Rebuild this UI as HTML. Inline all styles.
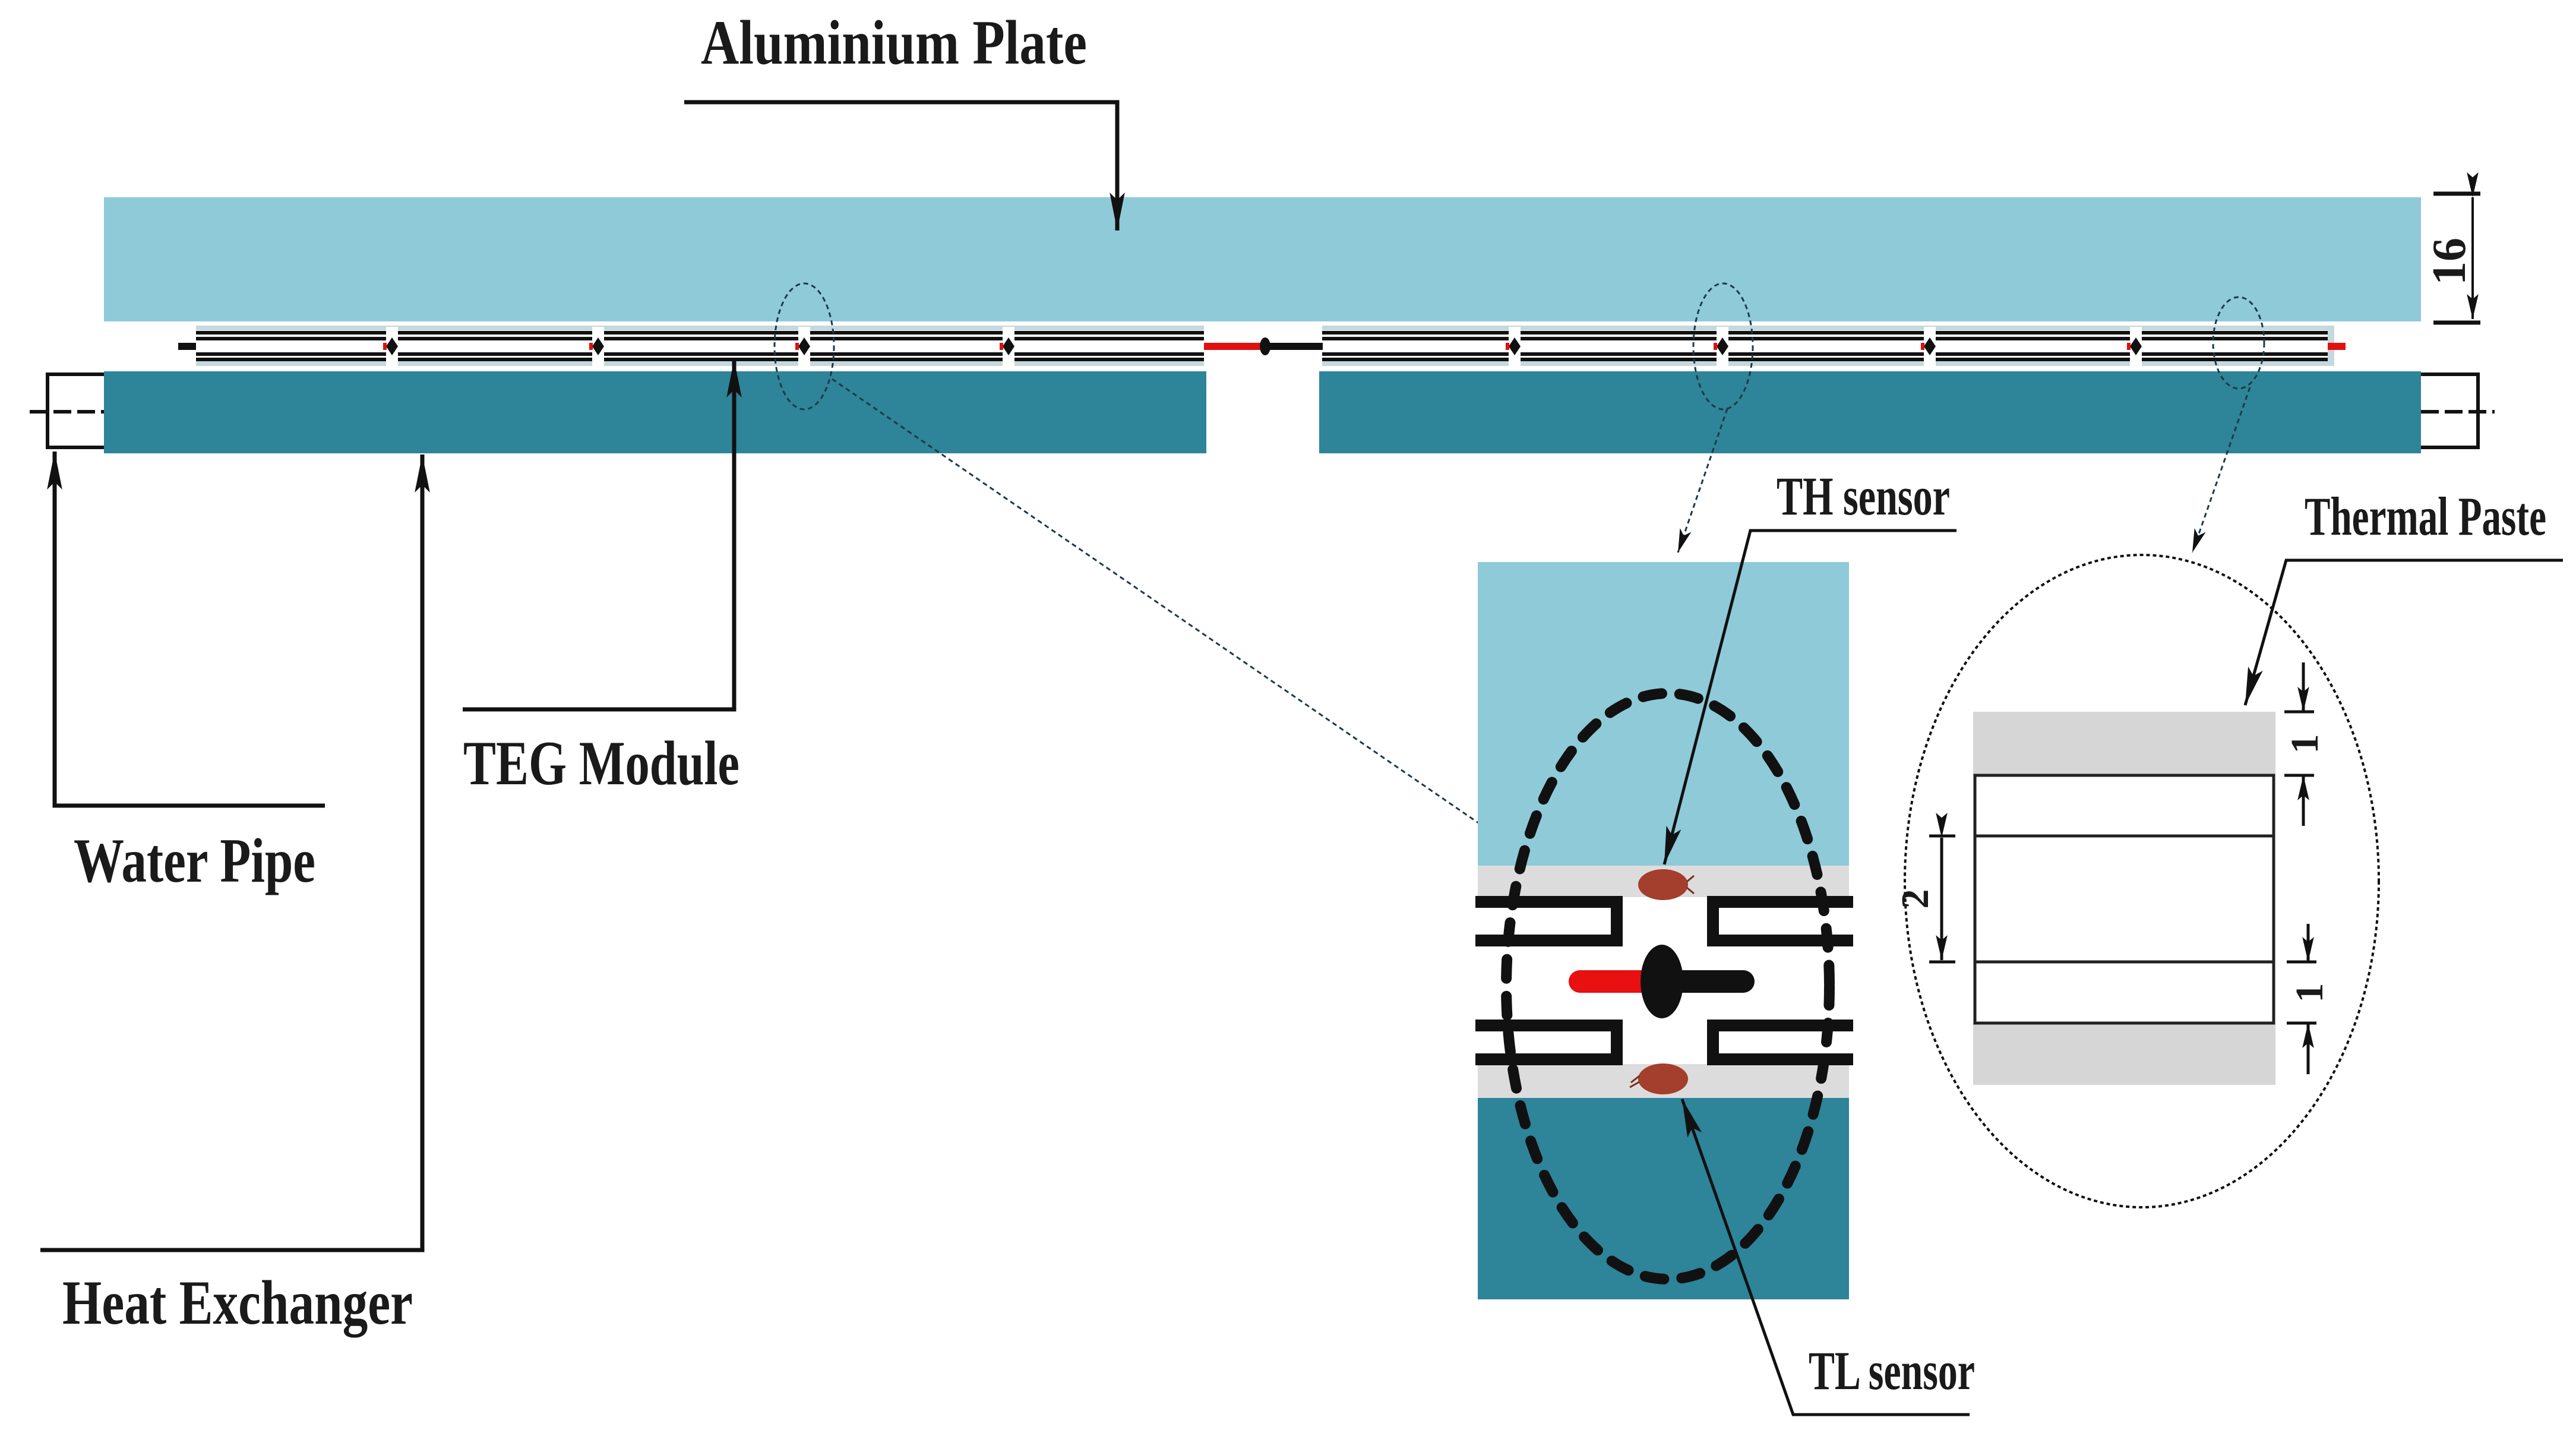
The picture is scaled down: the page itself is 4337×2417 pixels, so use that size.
<!DOCTYPE html>
<html><head><meta charset="utf-8"><style>
html,body{margin:0;padding:0;background:#fff;}
svg{display:block;}
text{font-family:"Liberation Serif",serif;font-weight:bold;fill:#1a1a1a;}
</style></head><body>
<svg width="4337" height="2417" viewBox="0 0 4337 2417" xmlns="http://www.w3.org/2000/svg">
<defs>
<marker id="ah" viewBox="0 0 20 10" refX="20" refY="5" markerWidth="40" markerHeight="20" markerUnits="userSpaceOnUse" orient="auto"><path d="M0,0 L20,5 L0,10 L5,5 Z" fill="#111"/></marker>
<marker id="ahb" viewBox="0 0 40 16" refX="40" refY="8" markerWidth="64" markerHeight="26" markerUnits="userSpaceOnUse" orient="auto"><path d="M0,0 L40,8 L0,16 L8,8 Z" fill="#111"/></marker>
<marker id="ahs" viewBox="0 0 30 14" refX="30" refY="7" markerWidth="42" markerHeight="20" markerUnits="userSpaceOnUse" orient="auto"><path d="M0,0 L30,7 L0,14 L6,7 Z" fill="#111"/></marker>
</defs>

<rect x="175" y="332" width="3901" height="209" fill="#8fcad9"/>
<rect x="330" y="548" width="3600" height="68" fill="#c5d8de"/>
<rect x="175" y="625" width="1856" height="138" fill="#2e8499"/>
<rect x="2221" y="625" width="1855" height="138" fill="#2e8499"/>
<g stroke="#111" stroke-width="6" fill="#fff">
<path d="M175,630 H80 V753 H175"/>
<path d="M4076,630 H4172 V753 H4076"/>
</g>
<g stroke="#111" stroke-width="6" stroke-dasharray="30,10">
<line x1="50" y1="693" x2="175" y2="693"/>
<line x1="4076" y1="693" x2="4200" y2="693"/>
</g>

<g>
<g fill="#fff" stroke="none">
<rect x="330" y="556" width="1697" height="52"/>
<rect x="2226" y="556" width="1693" height="52"/>
</g>
<g stroke="#111" stroke-width="6">
<line x1="330" y1="560" x2="2027" y2="560"/><line x1="330" y1="570" x2="2027" y2="570"/>
<line x1="330" y1="596" x2="2027" y2="596"/><line x1="330" y1="605" x2="2027" y2="605"/>
<line x1="2226" y1="560" x2="3919" y2="560"/><line x1="2226" y1="570" x2="3919" y2="570"/>
<line x1="2226" y1="596" x2="3919" y2="596"/><line x1="2226" y1="605" x2="3919" y2="605"/>
</g>
<g fill="#fff">
<rect x="650" y="550" width="20" height="66"/><rect x="997" y="550" width="20" height="66"/>
<rect x="1344" y="550" width="20" height="66"/><rect x="1688" y="550" width="20" height="66"/>
<rect x="2540" y="550" width="20" height="66"/><rect x="2890" y="550" width="20" height="66"/>
<rect x="3239" y="550" width="20" height="66"/><rect x="3586" y="550" width="20" height="66"/>
<rect x="2027" y="548" width="199" height="68"/>
</g>
<g fill="#111">
<path d="M660,568 L670,583 L660,598 L650,583Z"/><path d="M1007,568 L1017,583 L1007,598 L997,583Z"/>
<path d="M1354,568 L1364,583 L1354,598 L1344,583Z"/><path d="M1698,568 L1708,583 L1698,598 L1688,583Z"/>
<path d="M2550,568 L2560,583 L2550,598 L2540,583Z"/><path d="M2900,568 L2910,583 L2900,598 L2890,583Z"/>
<path d="M3249,568 L3259,583 L3249,598 L3239,583Z"/><path d="M3596,568 L3606,583 L3596,598 L3586,583Z"/>
<rect x="300" y="577" width="30" height="12"/>
</g>
<g fill="#e01010">
<rect x="645" y="577" width="6" height="12"/><rect x="992" y="577" width="6" height="12"/>
<rect x="1339" y="577" width="6" height="12"/><rect x="1683" y="577" width="6" height="12"/>
<rect x="2535" y="577" width="6" height="12"/><rect x="2885" y="577" width="6" height="12"/>
<rect x="3234" y="577" width="6" height="12"/><rect x="3581" y="577" width="6" height="12"/>
<rect x="2027" y="577" width="100" height="12"/>
<rect x="3919" y="577" width="30" height="12"/>
</g>
<rect x="2127" y="577" width="100" height="12" fill="#111"/>
<ellipse cx="2130" cy="583" rx="9" ry="15" fill="#111"/>
</g>

<g fill="none" stroke="#1b3a48" stroke-width="3" stroke-dasharray="8,6">
<ellipse cx="1354" cy="583" rx="50" ry="106"/>
<ellipse cx="2901" cy="583" rx="50" ry="106"/>
<ellipse cx="3769" cy="577" rx="43" ry="77"/>
<line x1="1401" y1="638" x2="2553" y2="1429" marker-end="url(#ah)"/>
<line x1="2908" y1="688" x2="2825" y2="930" marker-end="url(#ah)"/>
<line x1="3788" y1="652" x2="3691" y2="930" marker-end="url(#ah)"/>
</g>

<g stroke="#111" stroke-width="7">
<line x1="4097" y1="326" x2="4176" y2="326"/>
<line x1="4097" y1="543" x2="4176" y2="543"/>
<line x1="4163" y1="332" x2="4163" y2="537" stroke-width="4" marker-start="url(#ahs)" marker-end="url(#ahs)"/>
</g>
<text transform="translate(4150,440) rotate(-90)" font-size="80" text-anchor="middle">16</text>

<g fill="none" stroke="#111" stroke-width="7">
<polyline points="1152,172 1881,172 1881,388" marker-end="url(#ahb)"/>
<polyline points="779,1194 1236,1194 1236,605" marker-end="url(#ahb)"/>
<polyline points="547,1356 92,1356 92,760" marker-end="url(#ahb)"/>
<polyline points="68,2104 711,2104 711,765" marker-end="url(#ahb)"/>
</g>

<text x="1180" y="107" font-size="106" textLength="650" lengthAdjust="spacingAndGlyphs">Aluminium Plate</text>
<text x="780" y="1320" font-size="106" textLength="465" lengthAdjust="spacingAndGlyphs">TEG Module</text>
<text x="124" y="1484" font-size="106" textLength="407" lengthAdjust="spacingAndGlyphs">Water Pipe</text>
<text x="105" y="2228" font-size="106" textLength="590" lengthAdjust="spacingAndGlyphs">Heat Exchanger</text>
<text x="2991" y="866" font-size="92" textLength="292" lengthAdjust="spacingAndGlyphs">TH sensor</text>
<text x="3045" y="2338" font-size="92" textLength="280" lengthAdjust="spacingAndGlyphs">TL sensor</text>
<text x="3880" y="900" font-size="92" textLength="407" lengthAdjust="spacingAndGlyphs">Thermal Paste</text>

<rect x="2488" y="946" width="625" height="511" fill="#8fcad9"/>
<rect x="2488" y="1457" width="625" height="391" fill="#dcdcdc"/>
<rect x="2488" y="1848" width="625" height="339" fill="#2e8499"/>
<rect x="2488" y="1510" width="625" height="281" fill="#fff"/>
<ellipse cx="2808" cy="1660" rx="272" ry="493" fill="none" stroke="#111" stroke-width="18" stroke-dasharray="32,30" stroke-linecap="round"/>
<g fill="none" stroke="#111" stroke-width="20">
<path d="M2484,1518 H2722 V1583 H2484"/>
<path d="M2484,1726 H2722 V1783 H2484"/>
<path d="M3120,1518 H2884 V1583 H3120"/>
<path d="M3120,1726 H2884 V1783 H3120"/>
</g>
<line x1="2660" y1="1652" x2="2790" y2="1652" stroke="#e81010" stroke-width="38" stroke-linecap="round"/>
<line x1="2800" y1="1652" x2="2935" y2="1652" stroke="#111" stroke-width="38" stroke-linecap="round"/>
<ellipse cx="2798" cy="1652" rx="36" ry="62" fill="#111"/>
<ellipse cx="2800" cy="1489" rx="42" ry="26" fill="#a33f2c"/>
<ellipse cx="2800" cy="1816" rx="42" ry="26" fill="#a33f2c"/>
<g stroke="#7a2a1a" stroke-width="3" fill="none">
<path d="M2840,1484 L2852,1474 M2840,1494 L2852,1504"/>
<path d="M2760,1811 L2746,1822 M2760,1821 L2744,1830"/>
</g>
<g fill="none" stroke="#111" stroke-width="5">
<polyline points="3294,893 2947,893 2802,1455" marker-end="url(#ahb)"/>
<polyline points="3316,2381 3019,2381 2832,1850" marker-end="url(#ahb)"/>
</g>

<ellipse cx="3606" cy="1483" rx="399" ry="549" fill="none" stroke="#111" stroke-width="4" stroke-dasharray="6,5"/>
<rect x="3322" y="1198" width="509" height="107" fill="#d6d6d6"/>
<rect x="3322" y="1722" width="509" height="104" fill="#d6d6d6"/>
<rect x="3325" y="1305" width="503" height="417" fill="#fff" stroke="#222" stroke-width="5"/>
<g stroke="#222" stroke-width="5">
<line x1="3325" y1="1407" x2="3828" y2="1407"/>
<line x1="3325" y1="1619" x2="3828" y2="1619"/>
</g>
<g stroke="#111" stroke-width="5">
<line x1="3846" y1="1198" x2="3896" y2="1198"/>
<line x1="3846" y1="1305" x2="3896" y2="1305"/>
<line x1="3878" y1="1115" x2="3878" y2="1198" marker-end="url(#ahs)"/>
<line x1="3878" y1="1390" x2="3878" y2="1305" marker-end="url(#ahs)"/>
<line x1="3850" y1="1619" x2="3900" y2="1619"/>
<line x1="3850" y1="1722" x2="3900" y2="1722"/>
<line x1="3886" y1="1555" x2="3886" y2="1619" marker-end="url(#ahs)"/>
<line x1="3886" y1="1808" x2="3886" y2="1722" marker-end="url(#ahs)"/>
<line x1="3248" y1="1407" x2="3292" y2="1407"/>
<line x1="3248" y1="1619" x2="3292" y2="1619"/>
<line x1="3269" y1="1410" x2="3269" y2="1616" marker-start="url(#ahs)" marker-end="url(#ahs)"/>
</g>
<text transform="translate(3902,1252) rotate(-90)" font-size="66" text-anchor="middle">1</text>
<text transform="translate(3910,1671) rotate(-90)" font-size="66" text-anchor="middle">1</text>
<text transform="translate(3246,1513) rotate(-90)" font-size="66" text-anchor="middle">2</text>
<polyline points="4315,943 3849,943 3780,1187" fill="none" stroke="#111" stroke-width="5" marker-end="url(#ahb)"/>
</svg>
</body></html>
